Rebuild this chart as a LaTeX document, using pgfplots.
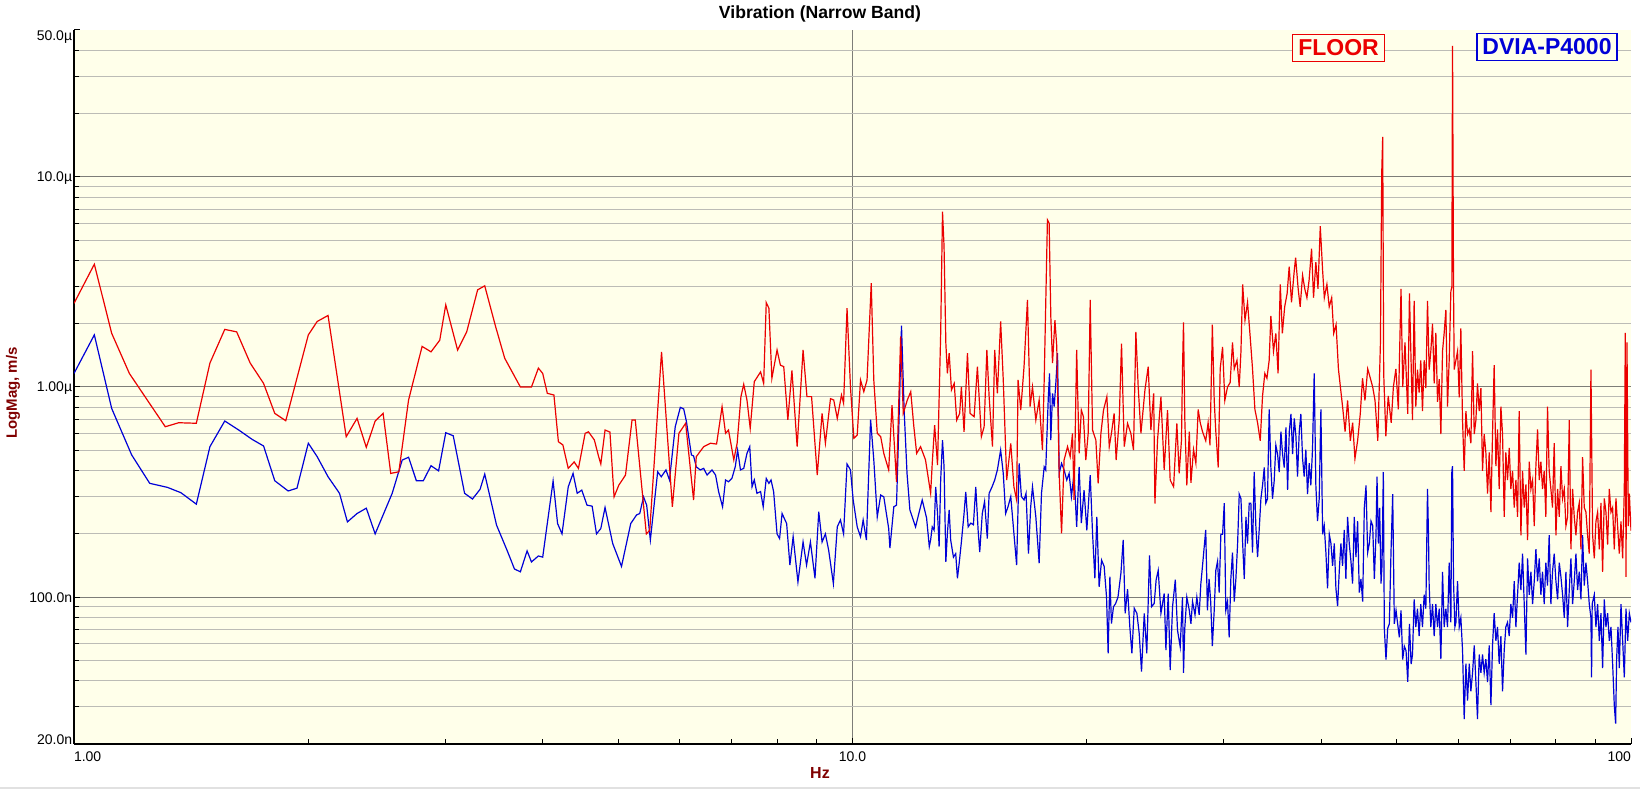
\documentclass[border=0pt]{standalone}
\usepackage{fontspec}
\setmainfont{Liberation Sans}
\usepackage{pgfplots}
\usepackage{pgfplotstable}
\pgfplotsset{compat=1.18}
\definecolor{bgc}{RGB}{255,255,234}
\definecolor{majg}{RGB}{125,125,120}
\definecolor{ming}{RGB}{188,188,182}
\definecolor{redc}{RGB}{235,0,0}
\definecolor{bluec}{RGB}{0,0,215}
\definecolor{labc}{RGB}{128,0,0}

\pgfplotstableread{
f v
1.000 2.50
1.062 3.84
1.118 1.80
1.178 1.16
1.242 0.867
1.310 0.647
1.363 0.676
1.399 0.674
1.436 0.672
1.495 1.30
1.562 1.88
1.618 1.83
1.684 1.30
1.752 1.04
1.811 0.749
1.871 0.691
2.000 1.77
2.053 2.05
2.120 2.19
2.237 0.580
2.310 0.709
2.374 0.516
2.437 0.689
2.495 0.749
2.552 0.388
2.614 0.395
2.690 0.867
2.800 1.56
2.875 1.47
2.950 1.67
3.003 2.46
3.110 1.50
3.195 1.83
3.300 2.90
3.370 3.03
3.480 1.94
3.575 1.37
3.745 1.00
3.870 1.00
3.950 1.23
4.000 1.16
4.055 0.933
4.135 0.916
4.190 0.549
4.246 0.530
4.314 0.410
4.390 0.440
4.446 0.410
4.535 0.602
4.580 0.612
4.660 0.560
4.720 0.466
4.750 0.430
4.810 0.624
4.880 0.610
4.940 0.300
5.010 0.341
5.110 0.381
5.210 0.697
5.260 0.697
5.435 0.200
5.490 0.208
5.685 1.47
5.870 0.269
5.985 0.602
6.105 0.672
6.250 0.290
6.30 0.466
6.44 0.520
6.57 0.540
6.69 0.535
6.80 0.806
6.87 0.602
6.93 0.624
7.04 0.450
7.11 0.540
7.19 0.900
7.25 1.03
7.32 0.867
7.39 0.636
7.48 1.06
7.62 1.18
7.69 1.04
7.75 2.52
7.81 2.37
7.88 1.10
8.00 1.50
8.08 1.27
8.16 1.25
8.26 0.697
8.36 1.20
8.49 0.520
8.64 1.50
8.74 0.900
8.86 0.900
9.01 0.381
9.14 0.749
9.23 0.540
9.37 0.880
9.46 0.867
9.56 0.709
9.68 0.916
9.74 0.836
9.84 2.37
9.94 1.00
10.04 0.570
10.14 0.590
10.24 1.08
10.34 0.950
10.44 1.08
10.57 3.12
10.65 1.08
10.76 0.602
10.87 0.580
10.97 0.483
11.13 0.403
11.24 0.820
11.39 0.354
11.53 1.74
11.62 0.749
11.76 0.867
11.88 0.950
11.99 0.647
12.09 0.483
12.23 0.520
12.41 0.450
12.60 0.312
12.66 0.433
12.75 0.659
12.86 0.425
12.98 1.80
13.05 6.84
13.11 4.66
13.18 1.61
13.24 1.16
13.31 1.45
13.40 0.968
13.51 1.04
13.61 0.696
13.73 0.749
13.80 1.00
13.91 0.612
14.05 1.45
14.16 0.749
14.33 0.722
14.47 1.25
14.64 0.580
14.76 0.647
14.88 1.50
14.98 0.899
15.13 0.520
15.23 1.50
15.35 0.933
15.50 2.05
15.62 1.08
15.78 0.361
15.97 0.539
16.12 0.335
16.25 0.290
16.32 1.08
16.45 0.777
16.61 1.25
16.78 2.60
16.91 0.806
17.03 1.00
17.20 0.696
17.37 0.867
17.54 0.501
17.63 1.08
17.80 6.24
17.89 6.02
17.98 2.16
18.07 1.30
18.20 2.08
18.30 1.56
18.43 0.388
18.56 0.201
18.70 0.449
18.89 0.520
19.04 0.466
19.17 0.602
19.26 0.290
19.41 1.50
19.55 0.483
19.68 0.777
19.80 0.722
19.94 0.449
20.08 0.602
20.20 2.60
20.34 0.624
20.54 0.559
20.68 0.348
20.85 0.602
21.01 0.777
21.22 0.899
21.37 0.520
21.51 0.602
21.68 0.749
21.81 0.449
22.01 0.696
22.16 1.61
22.34 0.520
22.56 0.671
22.78 0.602
22.96 0.501
23.12 1.83
23.28 1.00
23.47 0.602
23.75 0.968
23.98 1.25
24.17 0.624
24.37 0.933
24.46 0.279
24.65 0.559
24.90 0.899
25.14 0.403
25.39 0.777
25.59 0.361
25.85 0.335
26.10 0.671
26.28 0.388
26.46 0.559
26.54 1.22
26.62 2.03
26.72 0.709
26.88 0.340
27.08 0.613
27.21 0.350
27.42 0.503
27.61 0.434
27.80 0.782
27.97 0.676
28.16 0.613
28.43 0.555
28.63 0.676
28.79 0.528
28.99 1.98
29.15 0.863
29.29 0.613
29.50 0.414
29.67 1.22
29.88 1.55
30.08 0.863
30.32 1.00
30.56 1.05
30.77 1.63
30.93 1.22
31.18 1.34
31.39 1.00
31.55 1.48
31.71 3.08
31.93 2.08
32.17 2.53
32.43 1.71
32.65 1.22
32.88 0.782
33.14 0.676
33.40 0.555
33.63 0.906
33.86 1.16
34.07 1.10
34.30 1.34
34.47 2.18
34.74 1.48
34.98 1.80
35.21 1.16
35.44 3.08
35.66 1.80
35.91 2.41
36.17 2.79
36.39 3.74
36.64 2.53
36.94 3.57
37.09 4.13
37.37 2.93
37.59 2.41
37.86 3.40
38.11 2.93
38.35 2.66
38.60 3.23
38.88 4.55
39.11 2.66
39.38 3.93
39.63 2.93
39.90 5.82
40.17 3.57
40.37 2.66
40.68 3.08
40.96 2.41
41.26 2.66
41.51 1.80
41.80 1.98
42.09 1.22
42.34 1.00
42.65 0.782
42.93 0.613
43.25 0.863
43.60 0.555
43.90 0.676
44.20 0.456
44.55 0.555
44.90 0.745
45.20 1.10
45.53 0.863
45.90 1.22
46.26 1.10
46.58 1.00
46.90 0.863
47.29 0.555
47.66 1.63
47.84 10.4
47.98 15.5
48.12 1.16
48.43 0.583
48.77 0.906
49.20 0.676
49.52 1.00
49.89 1.22
50.25 0.782
50.65 2.93
50.91 1.00
51.25 1.63
51.67 0.745
51.93 2.79
52.40 0.695
52.66 2.57
52.92 0.807
53.18 1.21
53.44 0.94
53.70 1.34
53.97 0.768
54.24 1.34
54.51 0.988
54.78 2.57
55.05 1.21
55.32 1.48
55.60 2.00
55.87 1.04
56.15 1.81
56.43 0.85
56.71 1.09
56.99 0.597
57.27 1.48
57.55 1.81
57.84 2.33
58.12 0.807
58.41 1.34
58.70 2.85
58.87 3.0
58.99 42.0
59.16 3.0
59.28 1.21
59.58 1.34
59.87 1.48
60.17 0.893
60.46 1.90
60.76 0.695
61.06 0.399
61.37 0.768
61.67 0.597
61.98 0.628
62.28 0.540
62.59 1.48
62.90 0.597
63.21 0.695
63.51 1.04
63.83 0.768
64.15 0.988
64.46 0.399
64.78 0.597
65.10 0.488
65.43 0.311
65.75 0.488
66.08 0.254
66.40 0.597
66.72 1.27
67.06 0.420
67.39 0.628
67.72 0.327
68.06 0.807
68.39 0.597
68.73 0.241
69.07 0.488
69.41 0.361
69.76 0.513
70.10 0.327
70.45 0.399
70.80 0.267
71.15 0.361
71.50 0.241
71.85 0.768
72.21 0.197
72.57 0.399
72.93 0.267
73.29 0.344
73.65 0.187
74.01 0.441
74.38 0.327
74.75 0.361
75.12 0.218
75.49 0.420
75.86 0.628
76.24 0.361
76.61 0.441
76.99 0.327
77.37 0.399
77.75 0.241
78.14 0.807
78.52 0.399
78.91 0.327
79.30 0.267
79.70 0.540
80.09 0.197
80.49 0.327
80.88 0.241
81.28 0.420
81.68 0.295
82.09 0.327
82.49 0.218
82.90 0.241
83.31 0.695
83.72 0.169
84.14 0.327
84.55 0.241
84.97 0.197
85.39 0.254
85.81 0.281
86.24 0.169
86.66 0.464
87.09 0.267
87.52 0.254
87.96 0.197
88.39 0.161
88.83 1.21
89.27 0.197
89.71 0.153
90.15 0.229
90.60 0.254
91.05 0.169
91.50 0.281
91.95 0.132
92.40 0.295
92.86 0.254
93.32 0.178
93.78 0.327
94.25 0.254
94.71 0.267
95.18 0.169
95.65 0.295
96.12 0.218
96.60 0.161
97.08 0.229
97.56 0.153
98.04 0.327
98.33 1.81
98.53 0.125
98.82 1.63
99.21 0.218
99.51 0.311
100.0 0.207
}\reddata

\pgfplotstableread{
f v
1.000 1.16
1.062 1.77
1.118 0.79
1.186 0.475
1.251 0.348
1.318 0.333
1.372 0.314
1.436 0.277
1.495 0.52
1.562 0.689
1.628 0.624
1.694 0.563
1.752 0.524
1.811 0.358
1.884 0.32
1.934 0.33
2.000 0.54
2.053 0.466
2.120 0.374
2.193 0.312
2.245 0.228
2.310 0.25
2.374 0.265
2.437 0.20
2.563 0.312
2.640 0.449
2.690 0.463
2.753 0.358
2.810 0.358
2.875 0.422
2.940 0.399
3.003 0.606
3.070 0.586
3.175 0.312
3.250 0.293
3.324 0.326
3.370 0.385
3.490 0.22
3.600 0.167
3.680 0.136
3.745 0.132
3.820 0.166
3.870 0.147
3.950 0.157
4.000 0.155
4.125 0.357
4.180 0.224
4.235 0.20
4.314 0.335
4.376 0.388
4.430 0.312
4.490 0.323
4.560 0.274
4.630 0.271
4.690 0.20
4.750 0.212
4.810 0.267
4.920 0.18
5.050 0.14
5.190 0.224
5.280 0.246
5.330 0.25
5.390 0.30
5.440 0.274
5.500 0.187
5.620 0.395
5.680 0.374
5.760 0.403
5.820 0.361
5.920 0.647
6.010 0.80
6.070 0.786
6.120 0.684
6.210 0.475
6.250 0.47
6.30 0.417
6.375 0.403
6.44 0.41
6.505 0.381
6.60 0.403
6.67 0.381
6.73 0.318
6.81 0.269
6.87 0.361
6.93 0.354
7.00 0.367
7.07 0.417
7.12 0.50
7.18 0.403
7.25 0.41
7.32 0.483
7.38 0.52
7.43 0.335
7.48 0.361
7.54 0.312
7.62 0.318
7.68 0.269
7.75 0.367
7.81 0.348
7.86 0.361
7.92 0.318
8.00 0.20
8.06 0.19
8.12 0.25
8.23 0.224
8.31 0.142
8.39 0.194
8.51 0.118
8.64 0.183
8.73 0.142
8.83 0.183
8.95 0.123
9.05 0.255
9.14 0.183
9.23 0.20
9.32 0.167
9.45 0.116
9.56 0.216
9.65 0.233
9.74 0.20
9.84 0.43
9.94 0.403
10.02 0.29
10.14 0.216
10.24 0.194
10.32 0.233
10.42 0.187
10.55 0.70
10.65 0.45
10.76 0.241
10.87 0.306
10.97 0.30
11.13 0.212
11.17 0.171
11.30 0.269
11.39 0.274
11.47 0.659
11.56 1.96
11.65 0.777
11.75 0.388
11.85 0.26
12.05 0.216
12.29 0.29
12.45 0.238
12.55 0.174
12.60 0.187
12.66 0.216
12.73 0.208
12.79 0.335
12.86 0.25
12.92 0.174
12.98 0.361
13.05 0.559
13.11 0.417
13.18 0.147
13.24 0.201
13.31 0.260
13.37 0.187
13.48 0.155
13.57 0.161
13.64 0.123
13.71 0.145
13.80 0.183
13.91 0.25
13.98 0.317
14.08 0.216
14.19 0.225
14.30 0.221
14.40 0.335
14.50 0.208
14.57 0.164
14.68 0.25
14.78 0.285
14.90 0.19
14.98 0.312
15.11 0.335
15.23 0.361
15.35 0.403
15.50 0.501
15.62 0.388
15.73 0.25
15.84 0.269
15.97 0.301
16.12 0.201
16.25 0.142
16.37 0.433
16.48 0.301
16.61 0.29
16.71 0.312
16.83 0.161
16.94 0.269
17.03 0.335
17.20 0.241
17.37 0.145
17.49 0.312
17.63 0.417
17.71 0.403
17.84 0.867
17.91 1.16
17.98 0.559
18.07 0.933
18.16 0.806
18.26 1.08
18.34 1.45
18.43 0.388
18.56 0.433
18.70 0.403
18.85 0.361
18.98 0.388
19.11 0.301
19.26 0.388
19.41 0.216
19.55 0.417
19.68 0.225
19.84 0.323
20.00 0.208
20.20 0.381
20.34 0.201
20.48 0.123
20.60 0.241
20.74 0.112
20.89 0.150
21.05 0.140
21.20 0.10
21.30 0.054
21.41 0.125
21.51 0.0748
21.64 0.09
21.78 0.0933
21.93 0.10
22.12 0.130
22.27 0.187
22.40 0.0837
22.56 0.109
22.71 0.0723
22.85 0.054
23.01 0.0885
23.19 0.0837
23.35 0.0671
23.51 0.0442
23.70 0.0837
23.88 0.054
24.07 0.158
24.22 0.090
24.41 0.0933
24.55 0.121
24.70 0.134
24.90 0.0837
25.14 0.104
25.27 0.056
25.44 0.104
25.59 0.045
25.77 0.090
25.98 0.121
26.15 0.0697
26.36 0.058
26.54 0.100
26.62 0.0436
26.72 0.071
26.88 0.100
27.08 0.0865
27.21 0.0746
27.34 0.0953
27.54 0.0823
27.69 0.100
27.88 0.0823
28.02 0.116
28.16 0.141
28.29 0.171
28.43 0.209
28.57 0.0865
28.71 0.122
28.85 0.0953
28.99 0.0584
29.15 0.0865
29.29 0.134
29.44 0.148
29.58 0.105
29.73 0.199
29.88 0.199
30.03 0.28
30.17 0.0865
30.32 0.0953
30.47 0.0644
30.62 0.122
30.77 0.163
30.93 0.0953
31.08 0.122
31.24 0.18
31.39 0.309
31.55 0.294
31.71 0.18
31.86 0.122
32.02 0.241
32.17 0.18
32.33 0.28
32.49 0.28
32.65 0.163
32.81 0.394
32.97 0.219
33.14 0.155
33.30 0.209
33.47 0.294
33.63 0.34
33.80 0.414
33.96 0.28
34.13 0.294
34.30 0.782
34.47 0.414
34.64 0.294
34.81 0.357
34.98 0.528
35.16 0.479
35.33 0.394
35.51 0.613
35.68 0.479
35.86 0.414
36.04 0.643
36.22 0.324
36.40 0.613
36.58 0.745
36.76 0.479
36.94 0.709
37.12 0.583
37.30 0.375
37.49 0.613
37.67 0.745
37.86 0.456
38.04 0.375
38.23 0.503
38.42 0.309
38.61 0.434
38.80 0.34
38.99 0.503
39.19 1.16
39.38 0.34
39.57 0.23
39.77 0.294
39.97 0.782
40.17 0.199
40.36 0.219
40.56 0.163
40.76 0.11
40.97 0.199
41.17 0.18
41.37 0.141
41.58 0.18
41.78 0.11
41.99 0.0907
42.20 0.134
42.40 0.18
42.61 0.141
42.82 0.209
43.03 0.122
43.25 0.241
43.46 0.18
43.68 0.148
43.89 0.116
44.11 0.241
44.33 0.155
44.55 0.23
44.77 0.105
44.99 0.122
45.22 0.0953
45.44 0.266
45.67 0.34
45.89 0.163
46.12 0.18
46.35 0.23
46.58 0.219
46.81 0.122
47.04 0.199
47.18 0.375
47.37 0.18
47.55 0.266
47.74 0.116
47.88 0.141
48.07 0.394
48.21 0.071
48.45 0.0504
48.69 0.071
48.93 0.0746
49.17 0.163
49.42 0.309
49.66 0.0746
49.91 0.0865
50.15 0.0746
50.40 0.0644
50.65 0.0865
50.90 0.0504
51.15 0.0584
51.41 0.0556
51.67 0.0395
51.93 0.0746
52.19 0.048
52.40 0.0533
52.66 0.0975
52.92 0.0721
53.18 0.0881
53.44 0.0652
53.70 0.0927
53.97 0.0721
54.24 0.1026
54.51 0.0881
54.78 0.327
54.94 0.197
55.05 0.1135
55.32 0.0721
55.60 0.0927
55.87 0.0652
56.15 0.0927
56.43 0.0721
56.71 0.0881
56.99 0.0507
57.27 0.132
57.55 0.0721
57.84 0.0881
58.12 0.0721
58.41 0.146
58.70 0.0758
58.87 0.399
58.99 0.420
59.16 0.119
59.40 0.0721
59.58 0.0758
59.87 0.119
60.17 0.0721
60.46 0.0797
60.76 0.056
61.06 0.0263
61.37 0.0482
61.67 0.0322
61.98 0.0482
62.28 0.0356
62.59 0.0436
62.90 0.0589
63.21 0.0394
63.51 0.0263
63.83 0.0533
64.15 0.0436
64.46 0.0533
64.78 0.0436
65.10 0.0507
65.43 0.0394
65.75 0.0589
66.08 0.0306
66.40 0.0589
66.72 0.0838
67.06 0.062
67.39 0.0721
67.72 0.0482
68.06 0.0652
68.39 0.0356
68.73 0.056
69.07 0.0721
69.41 0.0758
69.76 0.0652
70.10 0.0927
70.45 0.0797
70.80 0.119
71.15 0.0721
71.50 0.1026
71.85 0.146
72.21 0.108
72.57 0.161
72.93 0.0927
73.29 0.0533
73.65 0.153
74.01 0.1026
74.38 0.132
74.75 0.0927
75.12 0.119
75.49 0.169
75.86 0.119
76.24 0.153
76.61 0.1026
76.99 0.132
77.37 0.0927
77.75 0.146
78.14 0.1135
78.52 0.197
78.91 0.0927
79.30 0.132
79.70 0.161
80.09 0.119
80.49 0.0975
80.88 0.146
81.28 0.125
81.68 0.1026
82.09 0.0797
82.49 0.132
82.90 0.0721
83.31 0.108
83.72 0.153
84.14 0.0927
84.55 0.119
84.97 0.161
85.39 0.108
85.81 0.132
86.24 0.0975
86.66 0.197
87.09 0.1135
87.52 0.146
87.96 0.119
88.39 0.0927
88.83 0.0797
88.99 0.0415
89.16 0.0927
89.71 0.1026
90.15 0.0721
90.60 0.0927
91.05 0.062
91.50 0.0838
91.95 0.0459
92.40 0.0975
92.86 0.0721
93.32 0.0838
93.78 0.062
94.25 0.0721
94.71 0.0482
95.18 0.0306
95.56 0.025
95.84 0.0507
96.22 0.0721
96.60 0.0459
97.08 0.0927
97.56 0.062
98.04 0.0415
98.53 0.0881
99.02 0.062
99.51 0.0838
100.0 0.0758
}\bluedata

\begin{document}
\begin{tikzpicture}
\path[use as bounding box] (0,0) rectangle (820pt,395.5pt);
\begin{axis}[
  at={(37pt,23.5pt)}, anchor=south west,
  scale only axis, width=778.5pt, height=357pt,
  xmode=log, ymode=log,
  xmin=1, xmax=100, ymin=0.02, ymax=50,
  axis lines*=left,
  axis line style={line width=1pt, black},
  axis background/.style={fill=bgc},
  xtick={10}, xticklabels={10.0},
  extra x ticks={1,100},
  extra x tick labels={\makebox[0pt][l]{1.00},\makebox[0pt][r]{100}},
  extra x tick style={grid=none},
  minor xtick={2,3,4,5,6,7,8,9,20,30,40,50,60,70,80,90},
  ytick={0.1,1,10}, yticklabels={100.0n,1.00µ,10.0µ},
  extra y ticks={0.02,50},
  extra y tick labels={\raisebox{2.15pt}[\height][\depth]{20.0n},\raisebox{-3pt}[\height][\depth]{50.0µ}},
  extra y tick style={grid=none},
  minor ytick={0.03,0.04,0.05,0.06,0.07,0.08,0.09,0.2,0.3,0.4,0.5,0.6,0.7,0.8,0.9,2,3,4,5,6,7,8,9,20,30,40},
  xmajorgrids=true, ymajorgrids=true, yminorgrids=true, xminorgrids=false,
  major grid style={line width=0.5pt, majg},
  minor grid style={line width=0.5pt, ming},
  tick align=inside,
  major tick length=3pt, minor tick length=2.5pt,
  tick style={black, line width=0.5pt},
  xticklabel style={font=\fontsize{7}{8}\selectfont, inner sep=0.75pt, yshift=-2.75pt},
  yticklabel style={font=\fontsize{7}{8}\selectfont, anchor=base east, inner sep=0.75pt, yshift=-2.5pt},
]
\addplot[bluec, line width=0.6pt, no marks] table[x=f, y=v] {\bluedata};
\addplot[redc, line width=0.6pt, no marks] table[x=f, y=v] {\reddata};
\end{axis}
\node[font=\fontsize{8.8}{10}\selectfont\bfseries] at (410pt,388.5pt) {Vibration (Narrow Band)};
\node[font=\fontsize{8}{9}\selectfont\bfseries, text=labc] at (410pt,9pt) {Hz};
\node[rotate=90, font=\fontsize{7.5}{9}\selectfont\bfseries, text=labc] at (6.5pt,199pt) {LogMag, m/s};
\node[draw=redc, fill=bgc, line width=0.6pt, text=redc, font=\fontsize{11.5}{13}\selectfont\bfseries, inner xsep=2.7pt, inner ysep=2.7pt] at (669.25pt,371.5pt) {FLOOR};
\node[draw=bluec, fill=bgc, line width=0.6pt, text=bluec, font=\fontsize{11.5}{13}\selectfont\bfseries, inner xsep=2.7pt, inner ysep=2.7pt] at (773.5pt,372pt) {DVIA-P4000};
\draw[color={rgb,255:red,225;green,225;blue,225}, line width=1pt] (0,1.5pt) -- (820pt,1.5pt);
\end{tikzpicture}
\end{document}
